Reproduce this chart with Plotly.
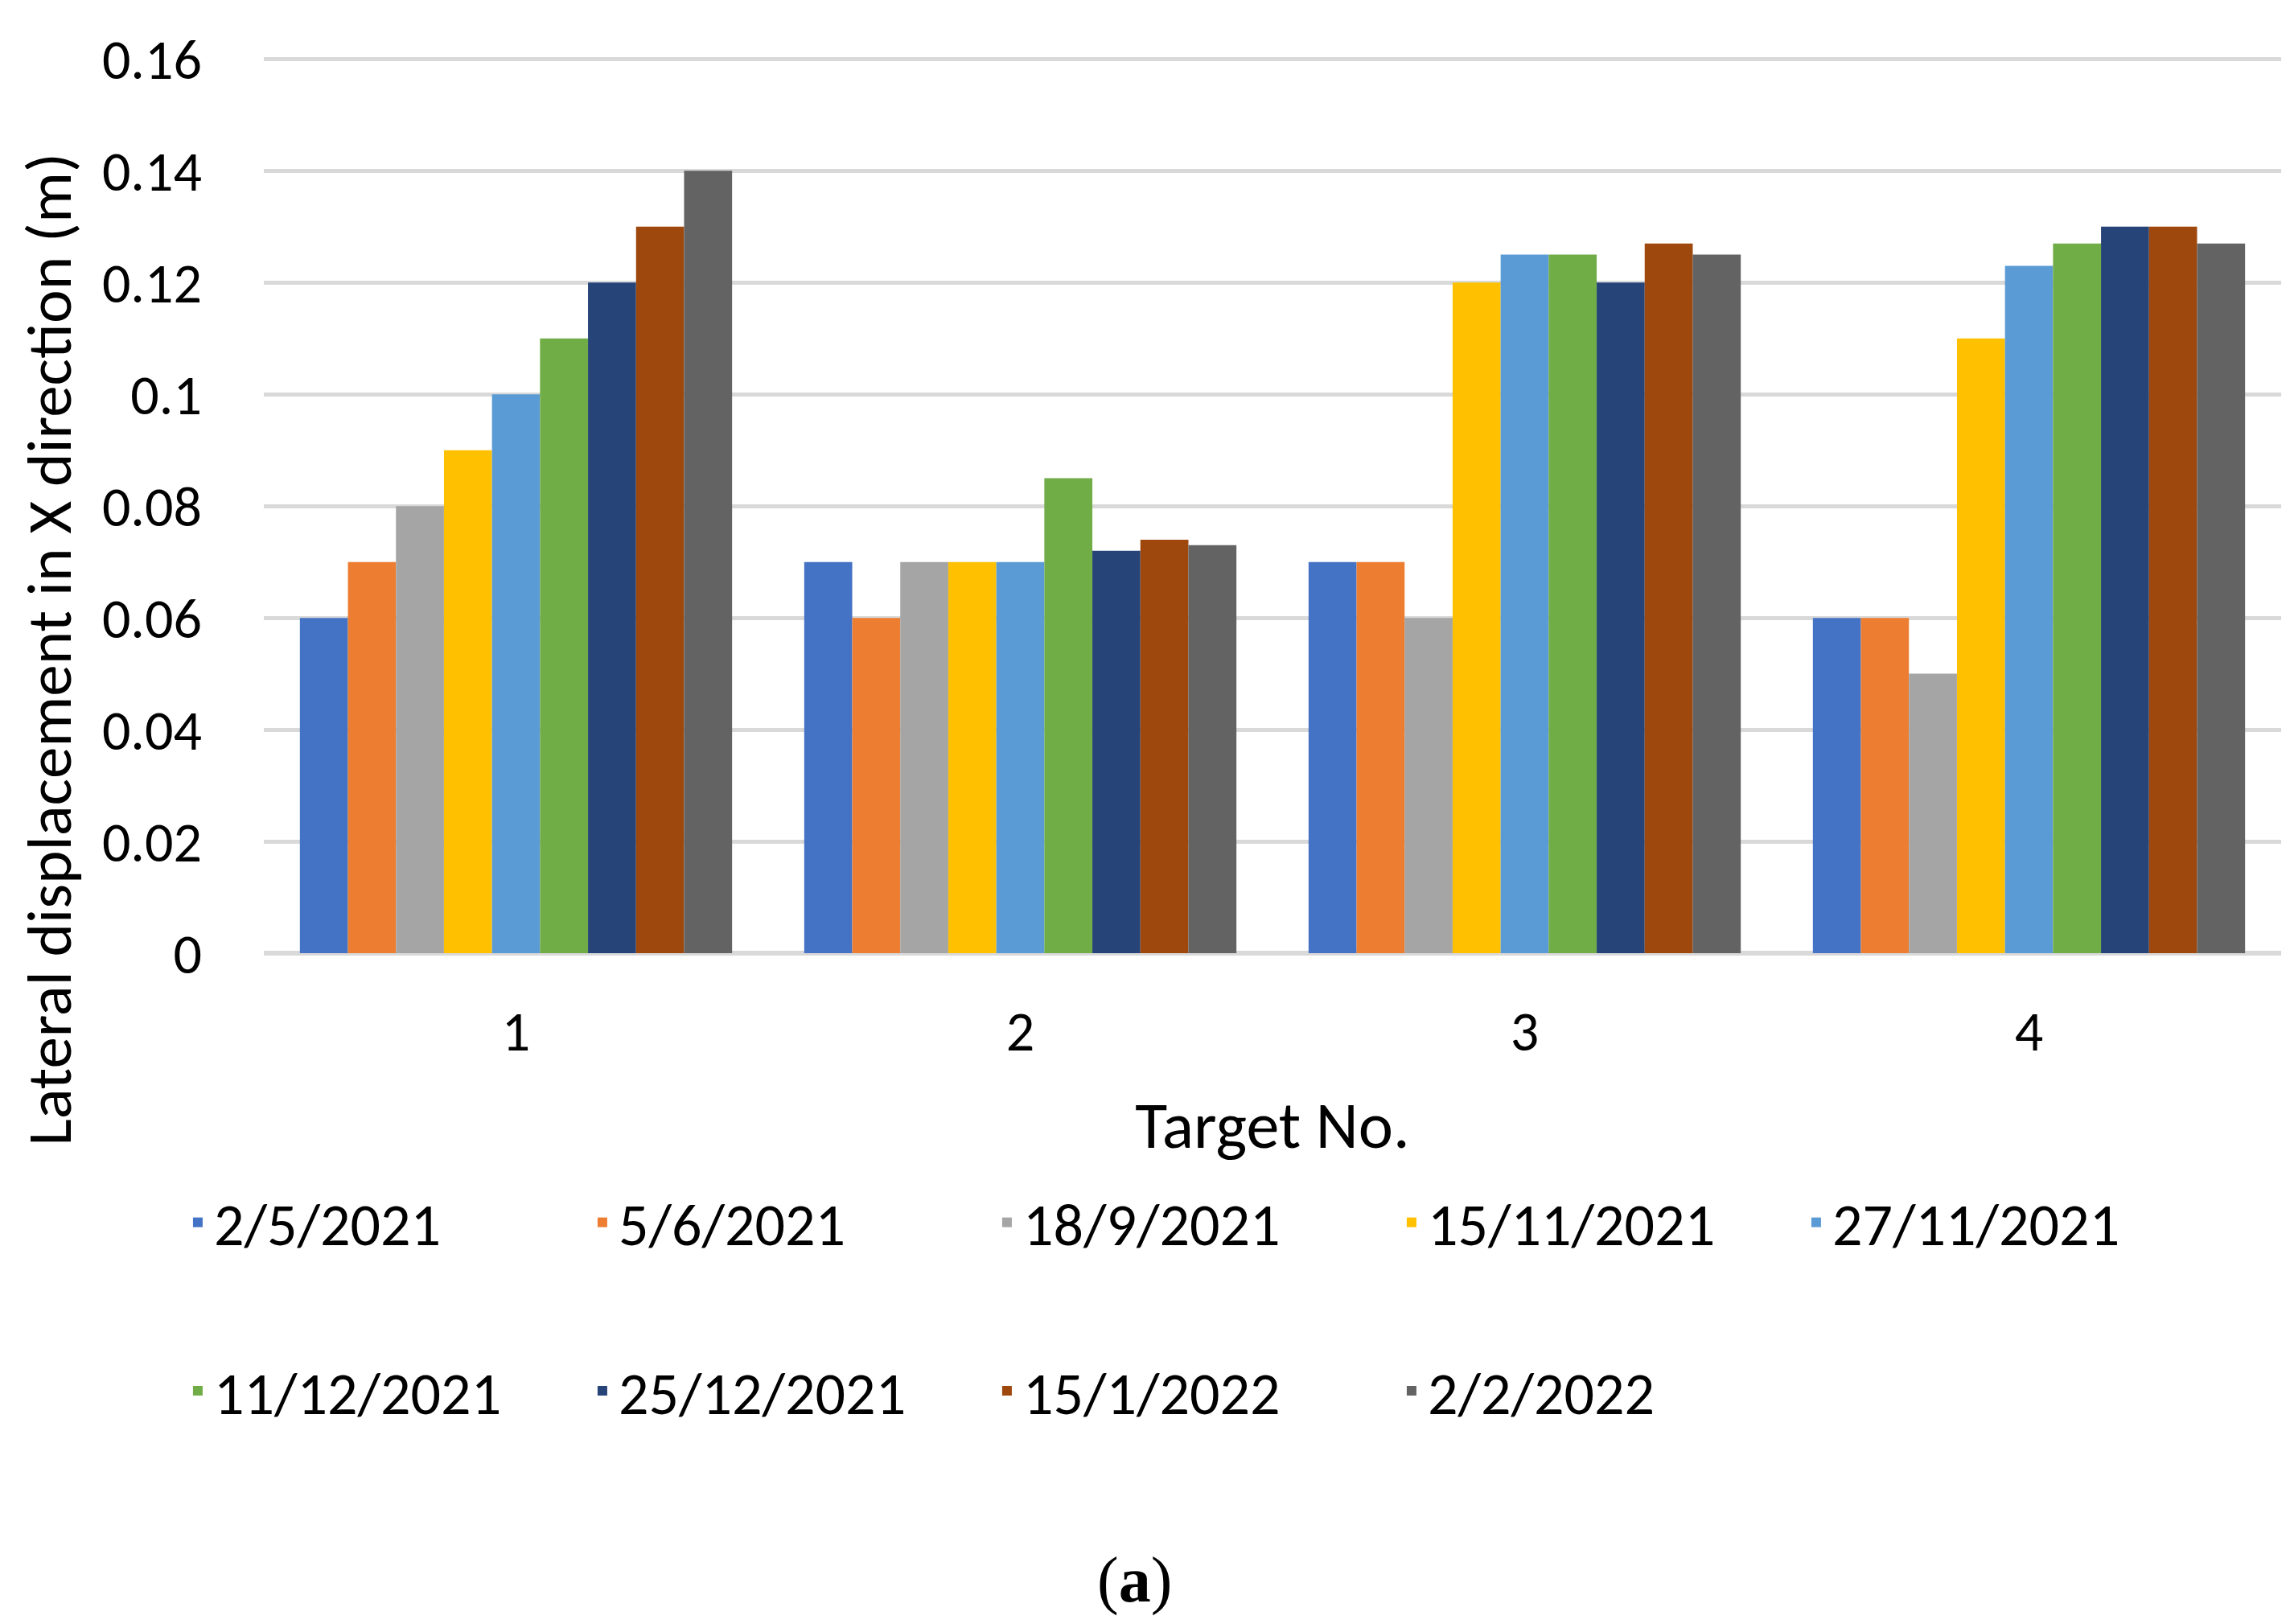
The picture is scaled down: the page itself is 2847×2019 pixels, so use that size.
import plotly.graph_objects as go

targets = ["1", "2", "3", "4"]
dates = ["2/5/2021", "5/6/2021", "18/9/2021", "15/11/2021", "27/11/2021",
         "11/12/2021", "25/12/2021", "15/1/2022", "2/2/2022"]
colors = ["#4472C4", "#ED7D31", "#A5A5A5", "#FFC000", "#5B9BD5",
          "#70AD47", "#264478", "#9E480E", "#636363"]

s_2_5_2021 = [0.06, 0.07, 0.07, 0.06]
s_5_6_2021 = [0.07, 0.06, 0.07, 0.06]
s_18_9_2021 = [0.08, 0.07, 0.06, 0.05]
s_15_11_2021 = [0.09, 0.07, 0.12, 0.11]
s_27_11_2021 = [0.10, 0.07, 0.125, 0.123]
s_11_12_2021 = [0.11, 0.085, 0.125, 0.127]
s_25_12_2021 = [0.12, 0.072, 0.12, 0.13]
s_15_1_2022 = [0.13, 0.074, 0.127, 0.13]
s_2_2_2022 = [0.14, 0.073, 0.125, 0.127]
series = [s_2_5_2021, s_5_6_2021, s_18_9_2021, s_15_11_2021, s_27_11_2021,
          s_11_12_2021, s_25_12_2021, s_15_1_2022, s_2_2_2022]

ytick_vals = [0, 0.02, 0.04, 0.06, 0.08, 0.1, 0.12, 0.14, 0.16]
ytick_text = ["0", "0.02", "0.04", "0.06", "0.08", "0.1", "0.12", "0.14", "0.16"]

FONT = "Calibri, Carlito, Lato, sans-serif"
TICK_FS = 70
LEG_FS = 74
TITLE_FS = 82
YTITLE_FS = 79

fig = go.Figure()
for i, (name, vals, col) in enumerate(zip(dates, series, colors)):
    fig.add_trace(go.Bar(
        x=targets, y=vals, name=name, marker=dict(color=col, line=dict(width=0)),
        legend="legend" if i < 5 else "legend2",
    ))

W, H = 2847, 2019
L, R, T, B = 320, 19, 64, 842

legend_common = dict(
    orientation="h", entrywidth=458, entrywidthmode="pixels",
    font=dict(family=FONT, size=LEG_FS, color="black"),
    bgcolor="rgba(0,0,0,0)", xanchor="left", yanchor="middle",
    itemwidth=30,
)

fig.update_layout(
    width=W, height=H,
    margin=dict(l=L, r=R, t=T, b=B, pad=0),
    paper_bgcolor="white", plot_bgcolor="white",
    barmode="group", bargap=0.143, bargroupgap=0,
    font=dict(family=FONT, size=TICK_FS, color="black"),
    legend=dict(x=-0.0407, y=-0.3010, **legend_common),
    legend2=dict(x=-0.0407, y=-0.4892, **legend_common),
    xaxis=dict(
        type="category", showgrid=False, showline=False, ticks="",
        tickfont=dict(family=FONT, size=TICK_FS, color="black"),
        ticklabelstandoff=50,
        title=dict(text="Target No.", font=dict(family=FONT, size=TITLE_FS, color="black"), standoff=45),
    ),
    yaxis=dict(
        range=[0, 0.1602], tickvals=ytick_vals, ticktext=ytick_text,
        showgrid=True, gridcolor="#D9D9D9", gridwidth=5,
        zeroline=True, zerolinecolor="#D9D9D9", zerolinewidth=6,
        showline=False, ticks="",
        tickfont=dict(family=FONT, size=TICK_FS, color="black"),
        ticklabelstandoff=76,
    ),
    annotations=[
        dict(text="Lateral displacement in X direction (m)", textangle=-90,
             xref="paper", yref="paper", x=-0.1065, y=0.340,
             xanchor="center", yanchor="middle", showarrow=False,
             font=dict(family=FONT, size=YTITLE_FS, color="black")),
        dict(text="(<b>a</b>)", xref="paper", yref="paper", x=0.4318, y=-0.700,
             xanchor="center", yanchor="middle", showarrow=False,
             font=dict(family="Palatino Linotype, Liberation Serif, serif", size=80, color="black")),
    ],
)

fig.write_html("out.html")
